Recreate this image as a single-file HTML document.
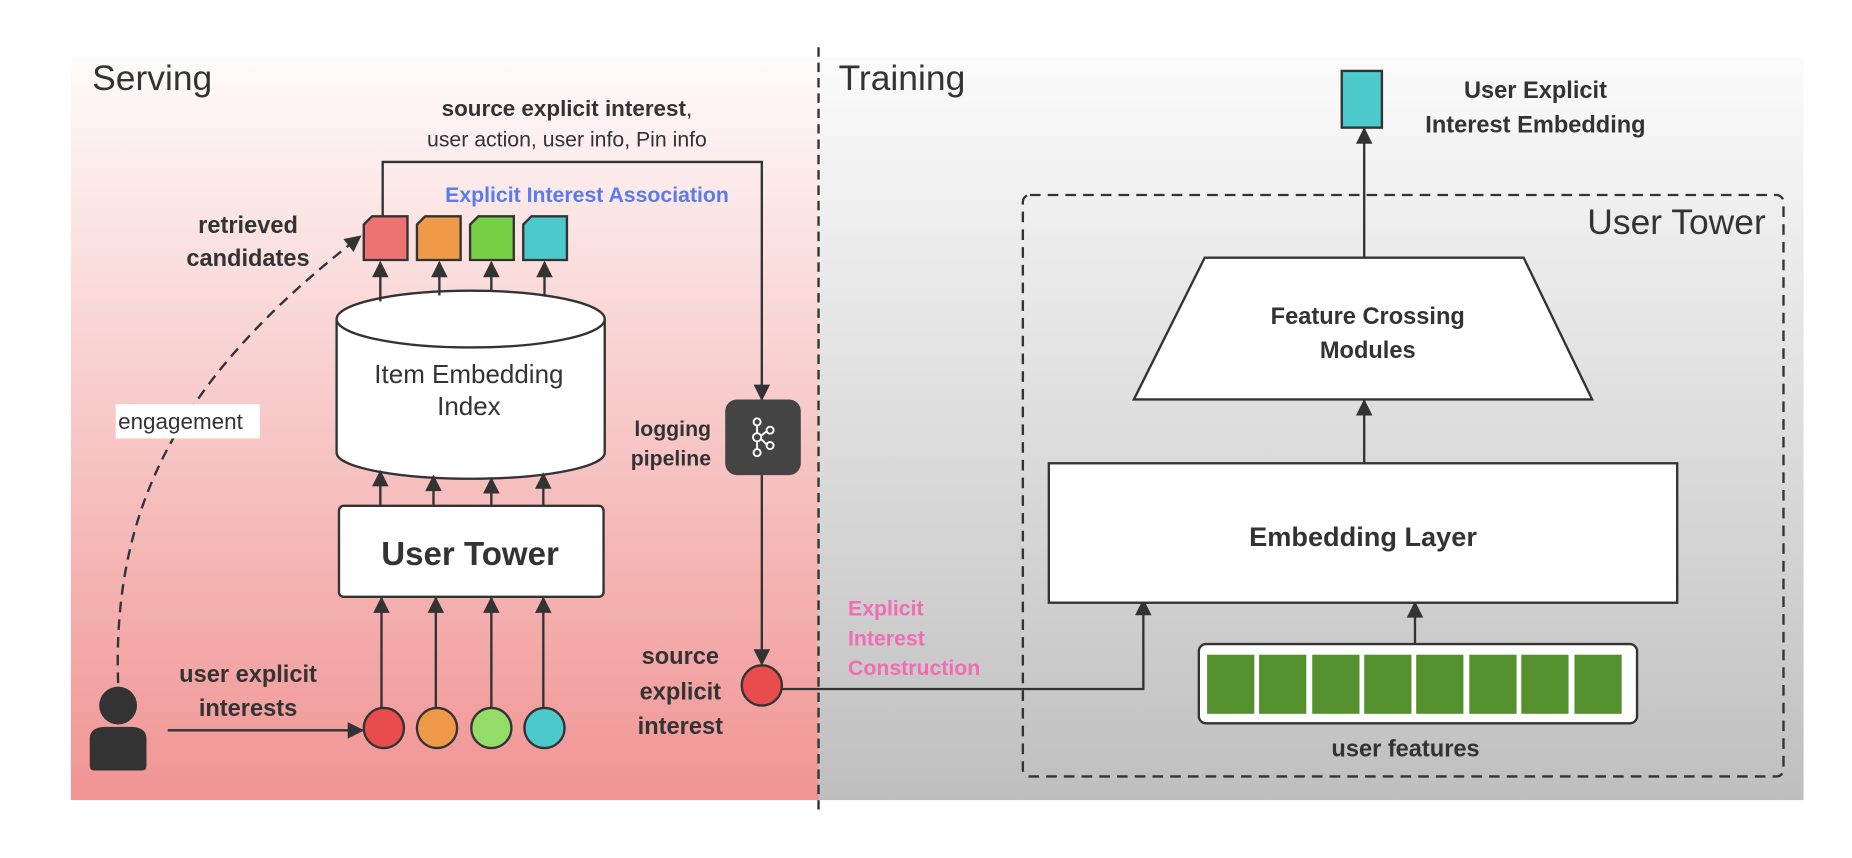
<!DOCTYPE html>
<html><head><meta charset="utf-8"><style>
html,body{margin:0;padding:0;background:#fff;}
svg{display:block;}
text{font-family:"Liberation Sans",Arial,sans-serif;fill:#333;}
.b{font-weight:bold;}
</style></head><body>
<svg width="1852" height="858" viewBox="0 0 1568 726" preserveAspectRatio="none" xmlns="http://www.w3.org/2000/svg">
<defs>
<linearGradient id="gs" x1="0" y1="0" x2="0" y2="1"><stop offset="0" stop-color="#fefbfb"/><stop offset="1" stop-color="#f09493"/></linearGradient>
<linearGradient id="gt" x1="0" y1="0" x2="0" y2="1"><stop offset="0" stop-color="#fbfbfb"/><stop offset="1" stop-color="#bfbfbf"/></linearGradient>
<marker id="A" viewBox="0 0 10 10" refX="9" refY="5" markerWidth="16" markerHeight="14" orient="auto" markerUnits="userSpaceOnUse"><path d="M0,0 L10,5 L0,10 z" fill="#333"/></marker>
</defs>
<rect x="60" y="48" width="633" height="629" fill="url(#gs)"/>
<rect x="693" y="48" width="834" height="629" fill="url(#gt)"/>
<line x1="693" y1="40" x2="693" y2="686" stroke="#333" stroke-width="2" stroke-dasharray="8,5"/>
<text x="78" y="76" font-size="30">Serving</text>
<text x="710" y="76" font-size="30">Training</text>

<g stroke="#333" stroke-width="2">
<path d="M315,183 L345,183 L345,220 L308,220 L308,190 Z" fill="#ee7272"/>
<path d="M360,183 L390,183 L390,220 L353,220 L353,190 Z" fill="#ef9a48"/>
<path d="M405,183 L435,183 L435,220 L398,220 L398,190 Z" fill="#78d046"/>
<path d="M450,183 L480,183 L480,220 L443,220 L443,190 Z" fill="#4bc9cb"/>
<path d="M285,270 L285,383 A113,22 0 0 0 512,383 L512,270" fill="#fff"/>
<ellipse cx="398.5" cy="270" rx="113.5" ry="24" fill="#fff"/>
<rect x="287" y="428" width="224" height="77" rx="4" fill="#fff"/>
<circle cx="325" cy="616" r="17" fill="#e84c4c"/>
<circle cx="370" cy="616" r="17" fill="#ef9a48"/>
<circle cx="416" cy="616" r="17" fill="#94dc6a"/>
<circle cx="461" cy="616" r="17" fill="#4bc9cb"/>
<circle cx="645" cy="580" r="17" fill="#e84c4c"/>
</g>

<g stroke="#333" stroke-width="2" fill="none">
<polyline points="324,183 324,137 645,137 645,338" marker-end="url(#A)"/>
<line x1="322" y1="255" x2="322" y2="222" marker-end="url(#A)"/>
<line x1="372" y1="250" x2="372" y2="222" marker-end="url(#A)"/>
<line x1="416" y1="247" x2="416" y2="222" marker-end="url(#A)"/>
<line x1="461" y1="251" x2="461" y2="222" marker-end="url(#A)"/>
<line x1="322" y1="428" x2="322" y2="399" marker-end="url(#A)"/>
<line x1="367" y1="428" x2="367" y2="403" marker-end="url(#A)"/>
<line x1="416" y1="428" x2="416" y2="405" marker-end="url(#A)"/>
<line x1="460" y1="428" x2="460" y2="401" marker-end="url(#A)"/>
<line x1="323" y1="599" x2="323" y2="506" marker-end="url(#A)"/>
<line x1="369" y1="599" x2="369" y2="506" marker-end="url(#A)"/>
<line x1="416" y1="599" x2="416" y2="506" marker-end="url(#A)"/>
<line x1="460" y1="599" x2="460" y2="506" marker-end="url(#A)"/>
<line x1="142" y1="618" x2="307" y2="618" marker-end="url(#A)"/>
<path d="M100,578 C95,430 150,320 305,200" stroke-dasharray="9,6" marker-end="url(#A)"/>
<line x1="645" y1="402" x2="645" y2="562" marker-end="url(#A)"/>
<polyline points="662,583 968,583 968,508" marker-end="url(#A)"/>
<line x1="1198" y1="545" x2="1198" y2="510" marker-end="url(#A)"/>
<line x1="1155" y1="392" x2="1155" y2="339" marker-end="url(#A)"/>
<line x1="1155" y1="218" x2="1155" y2="109" marker-end="url(#A)"/>
</g>

<text x="480" y="98" font-size="19" text-anchor="middle" class="b">source explicit interest<tspan font-weight="normal">,</tspan></text>
<text x="480" y="124" font-size="18" text-anchor="middle">user action, user info, Pin info</text>
<text x="497" y="171" font-size="18" text-anchor="middle" class="b" style="fill:#5a7ce8">Explicit Interest Association</text>

<text x="397" y="324" font-size="22" text-anchor="middle">Item Embedding</text>
<text x="397" y="351" font-size="22" text-anchor="middle">Index</text>
<text x="398" y="478" font-size="28" text-anchor="middle" class="b">User Tower</text>

<rect x="98" y="342" width="122" height="29" fill="#fff"/>
<text x="100" y="363" font-size="19">engagement</text>
<text x="210" y="197" font-size="20" text-anchor="middle" class="b">retrieved</text>
<text x="210" y="225" font-size="20" text-anchor="middle" class="b">candidates</text>
<text x="210" y="577" font-size="20" text-anchor="middle" class="b">user explicit</text>
<text x="210" y="606" font-size="20" text-anchor="middle" class="b">interests</text>

<circle cx="100" cy="597" r="16" fill="#333"/>
<path d="M76,625 Q76,615 90,615 L110,615 Q124,615 124,625 L124,648 Q124,652 120,652 L80,652 Q76,652 76,648 Z" fill="#333"/>

<rect x="614" y="338" width="64" height="64" rx="10" fill="#444"/>
<g stroke="#fff" stroke-width="1.6" fill="none">
<circle cx="641" cy="357" r="3"/><circle cx="641" cy="370" r="3.5"/><circle cx="641" cy="383" r="3"/>
<circle cx="652" cy="364" r="3"/><circle cx="652" cy="377" r="3"/>
<line x1="641" y1="360" x2="641" y2="366"/><line x1="641" y1="374" x2="641" y2="380"/>
<line x1="644" y1="369" x2="649" y2="365"/><line x1="644" y1="371" x2="649" y2="376"/>
</g>
<text x="602" y="369" font-size="18" text-anchor="end" class="b">logging</text>
<text x="602" y="394" font-size="18" text-anchor="end" class="b">pipeline</text>
<text x="576" y="562" font-size="20" text-anchor="middle" class="b">source</text>
<text x="576" y="592" font-size="20" text-anchor="middle" class="b">explicit</text>
<text x="576" y="621" font-size="20" text-anchor="middle" class="b">interest</text>
<text x="718" y="521" font-size="18" class="b" style="fill:#f06cb4">Explicit</text>
<text x="718" y="546" font-size="18" class="b" style="fill:#f06cb4">Interest</text>
<text x="718" y="571" font-size="18" class="b" style="fill:#f06cb4">Construction</text>

<rect x="866" y="165" width="644" height="492" rx="6" fill="none" stroke="#333" stroke-width="2" stroke-dasharray="9,6"/>
<text x="1495" y="198" font-size="30" text-anchor="end">User Tower</text>
<rect x="1136" y="60" width="34" height="48" fill="#4bc9cb" stroke="#333" stroke-width="2"/>
<text x="1300" y="83" font-size="20" text-anchor="middle" class="b">User Explicit</text>
<text x="1300" y="112" font-size="20" text-anchor="middle" class="b">Interest Embedding</text>
<path d="M1020,218 L1290,218 L1348,338 L960,338 Z" fill="#fff" stroke="#333" stroke-width="2"/>
<text x="1158" y="274" font-size="20" text-anchor="middle" class="b">Feature Crossing</text>
<text x="1158" y="303" font-size="20" text-anchor="middle" class="b">Modules</text>
<rect x="888" y="392" width="532" height="118" fill="#fff" stroke="#333" stroke-width="2"/>
<text x="1154" y="462" font-size="23" text-anchor="middle" class="b">Embedding Layer</text>
<rect x="1015" y="545" width="371" height="67" rx="6" fill="#fff" stroke="#333" stroke-width="2"/>
<g fill="#55902f">
<rect x="1022" y="554" width="40" height="50"/><rect x="1066" y="554" width="40" height="50"/>
<rect x="1111" y="554" width="40" height="50"/><rect x="1155" y="554" width="40" height="50"/>
<rect x="1199" y="554" width="40" height="50"/><rect x="1244" y="554" width="40" height="50"/>
<rect x="1288" y="554" width="40" height="50"/><rect x="1333" y="554" width="40" height="50"/>
</g>
<text x="1190" y="640" font-size="20" text-anchor="middle" class="b">user features</text>
</svg>
</body></html>
